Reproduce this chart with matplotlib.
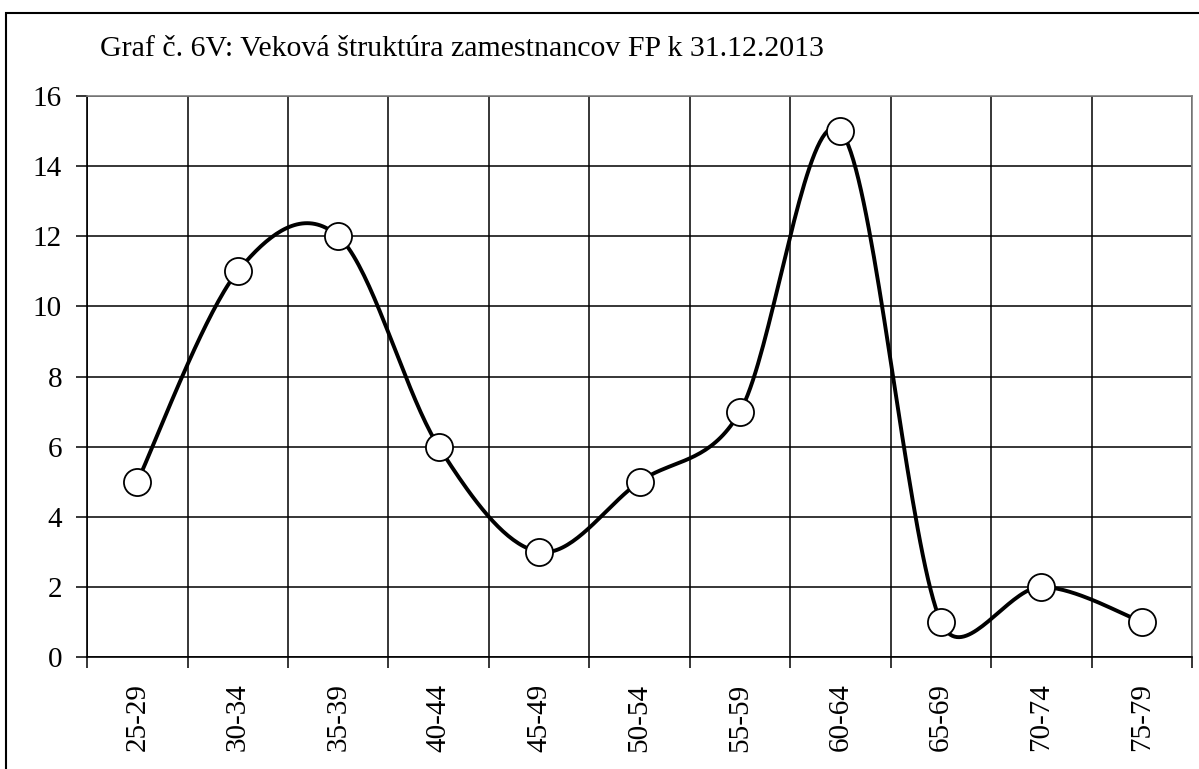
import numpy as np
import matplotlib
matplotlib.use("Agg")
import matplotlib.pyplot as plt
from matplotlib.patches import Rectangle

# Data
age_groups = ["25-29", "30-34", "35-39", "40-44", "45-49", "50-54",
              "55-59", "60-64", "65-69", "70-74", "75-79"]
employees = [5, 11, 12, 6, 3, 5, 7, 15, 1, 2, 1]
y_ticks = [0, 2, 4, 6, 8, 10, 12, 14, 16]
title = "Graf č. 6V: Veková štruktúra zamestnancov FP k 31.12.2013"


# Excel-like smoothed line: Bezier segments, control offset = 1/6 of the
# neighbour chord, capped at half the adjacent segment (in screen units)
def smooth_line(xs, ys, kx, ky, steps=40):
    P = np.column_stack([np.asarray(xs, float) * kx, np.asarray(ys, float) * ky])
    n = len(P)
    fwd, bwd = [], []
    for i in range(n):
        T = (P[min(i + 1, n - 1)] - P[max(i - 1, 0)]) / 6.0
        L = np.hypot(*T)
        f_scale, b_scale = 1.0, 1.0
        if L > 0:
            if i < n - 1:
                f_scale = min(1.0, np.hypot(*(P[i + 1] - P[i])) / 2 / L)
            if i > 0:
                b_scale = min(1.0, np.hypot(*(P[i] - P[i - 1])) / 2 / L)
        fwd.append(P[i] + T * f_scale)
        bwd.append(P[i] - T * b_scale)
    t = np.linspace(0, 1, steps)[:, None]
    pts = []
    for i in range(n - 1):
        seg = ((1 - t) ** 3 * P[i] + 3 * (1 - t) ** 2 * t * fwd[i]
               + 3 * (1 - t) * t ** 2 * bwd[i + 1] + t ** 3 * P[i + 1])
        pts.append(seg)
    pts = np.vstack(pts)
    return pts[:, 0] / kx, pts[:, 1] / ky


plt.rcParams['font.family'] = ['Liberation Serif', 'DejaVu Serif']

fig = plt.figure(figsize=(11.99, 7.69), dpi=100)
ax = fig.add_axes([0.0726, 0.1456, 0.9216, 0.7296])

x = np.arange(len(age_groups))
ax.set_xlim(-0.5, len(age_groups) - 0.5)
ax.set_ylim(0, 16)

# pixel size of one data unit, used for the smoothing
kx = 0.9216 * 1199 / len(age_groups)
ky = 0.7296 * 769 / 16
sx, sy = smooth_line(x, employees, kx, ky)
ax.plot(sx, sy, color="black", linewidth=2.8, zorder=3, clip_on=False,
        solid_joinstyle="round")
ax.plot(x, employees, linestyle="none", marker="o", markersize=19.5,
        markerfacecolor="white", markeredgecolor="black",
        markeredgewidth=1.3, zorder=4, clip_on=False)

ax.set_yticks(y_ticks)
ax.set_xticks(x)
ax.set_xticklabels(age_groups, rotation=90, fontsize=21)
ax.tick_params(axis="x", which="major", length=0, pad=19)
ax.set_xticks(np.arange(len(age_groups) + 1) - 0.5, minor=True)
ax.tick_params(axis="x", which="minor", length=8, width=1.1, direction="out")
ax.tick_params(axis="y", length=8, width=1.1, direction="out", labelsize=21, pad=10)

ax.grid(True, axis="y", which="major", color="black", linewidth=1.1)
ax.grid(True, axis="x", which="minor", color="black", linewidth=1.1)
ax.set_axisbelow(True)

for side in ["left", "bottom"]:
    ax.spines[side].set_linewidth(1.2)
for side in ["top", "right"]:
    ax.spines[side].set_color("#808080")
    ax.spines[side].set_linewidth(1.2)

fig.text(100 / 1199, 1 - 56 / 769, title, fontsize=21.5, ha="left", va="baseline")

# outer chart frame (extends past the right and bottom edges)
frame = Rectangle((6 / 1199, -0.1), 1.2, 1 - 13 / 769 + 0.1,
                  transform=fig.transFigure, fill=False,
                  edgecolor="black", linewidth=1.5, clip_on=False)
fig.patches.append(frame)

fig.savefig("out.png", dpi=100)
